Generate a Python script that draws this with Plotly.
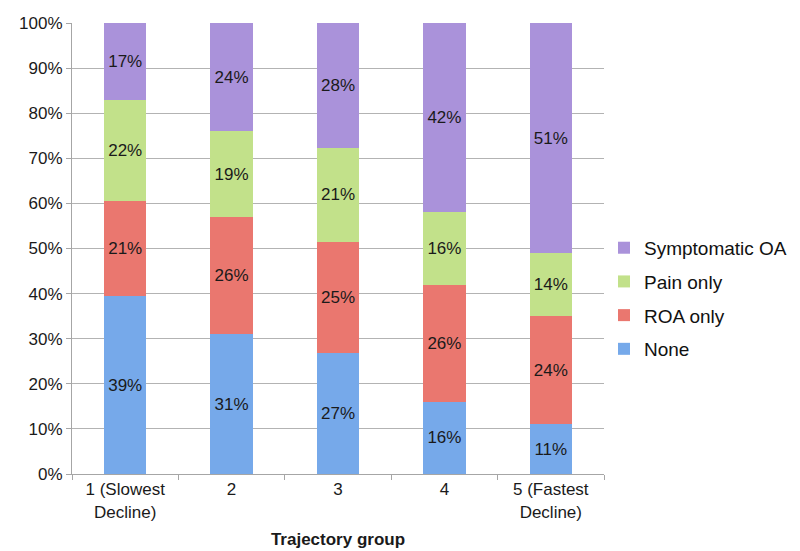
import plotly.graph_objects as go

categories = ["1 (Slowest<br>Decline)", "2", "3", "4", "5 (Fastest<br>Decline)"]
none_vals = [39, 31, 27, 16, 11]
roa_vals = [21, 26, 25, 26, 24]
pain_vals = [22, 19, 21, 16, 14]
sympt_vals = [17, 24, 28, 42, 51]
y_ticks = [0, 10, 20, 30, 40, 50, 60, 70, 80, 90, 100]
y_tick_labels = ["0%", "10%", "20%", "30%", "40%", "50%", "60%", "70%", "80%", "90%", "100%"]

series = [
    ("None", none_vals, "#76a9ea", 4),
    ("ROA only", roa_vals, "#ea776f", 3),
    ("Pain only", pain_vals, "#c2e18a", 2),
    ("Symptomatic OA", sympt_vals, "#aa92da", 1),
]

FONT = "Liberation Sans, Arial, Helvetica, sans-serif"

fig = go.Figure()
for name, vals, color, rank in series:
    fig.add_trace(go.Bar(
        x=categories, y=vals, name=name,
        marker=dict(color=color, line=dict(width=0)),
        text=[f"{v}%" for v in vals],
        textposition="inside", insidetextanchor="middle", textangle=0,
        constraintext="none",
        textfont=dict(size=17, color="#1a1a1a", family=FONT),
        legendgroup=name, legendrank=rank,
        hoverinfo="skip",
    ))

fig.update_layout(
    width=800, height=551,
    barmode="stack", barnorm="percent", bargap=0.6,
    paper_bgcolor="white", plot_bgcolor="white",
    margin=dict(l=64, r=196, t=15, b=85),
    font=dict(family=FONT, size=17, color="#1a1a1a"),
    legend=dict(
        xref="container", yref="container",
        x=0.745, xanchor="left", y=0.473, yanchor="middle",
        traceorder="grouped", tracegroupgap=6,
        font=dict(size=19, family=FONT, color="#111111"),
        bgcolor="rgba(0,0,0,0)",
    ),
    showlegend=True,
)

fig.update_yaxes(
    range=[0, 100], tickmode="array", tickvals=y_ticks, ticktext=y_tick_labels,
    showgrid=True, gridcolor="#b3b3b3", gridwidth=1,
    showline=True, linecolor="#a6a6a6", linewidth=1,
    ticks="outside", ticklen=5, tickcolor="#a6a6a6",
    tickfont=dict(size=17, family=FONT, color="#1a1a1a"),
    zeroline=False, fixedrange=True, automargin=False,
)
fig.update_xaxes(
    showline=True, linecolor="#a6a6a6", linewidth=1,
    ticks="outside", ticklen=5, tickcolor="#a6a6a6", tickson="boundaries",
    tickfont=dict(size=17, family=FONT, color="#1a1a1a"),
    title=dict(text="<b>Trajectory group</b>", font=dict(size=17, family=FONT, color="#1a1a1a"), standoff=12),
    fixedrange=True, automargin=False,
)

fig.write_html("out.html")
